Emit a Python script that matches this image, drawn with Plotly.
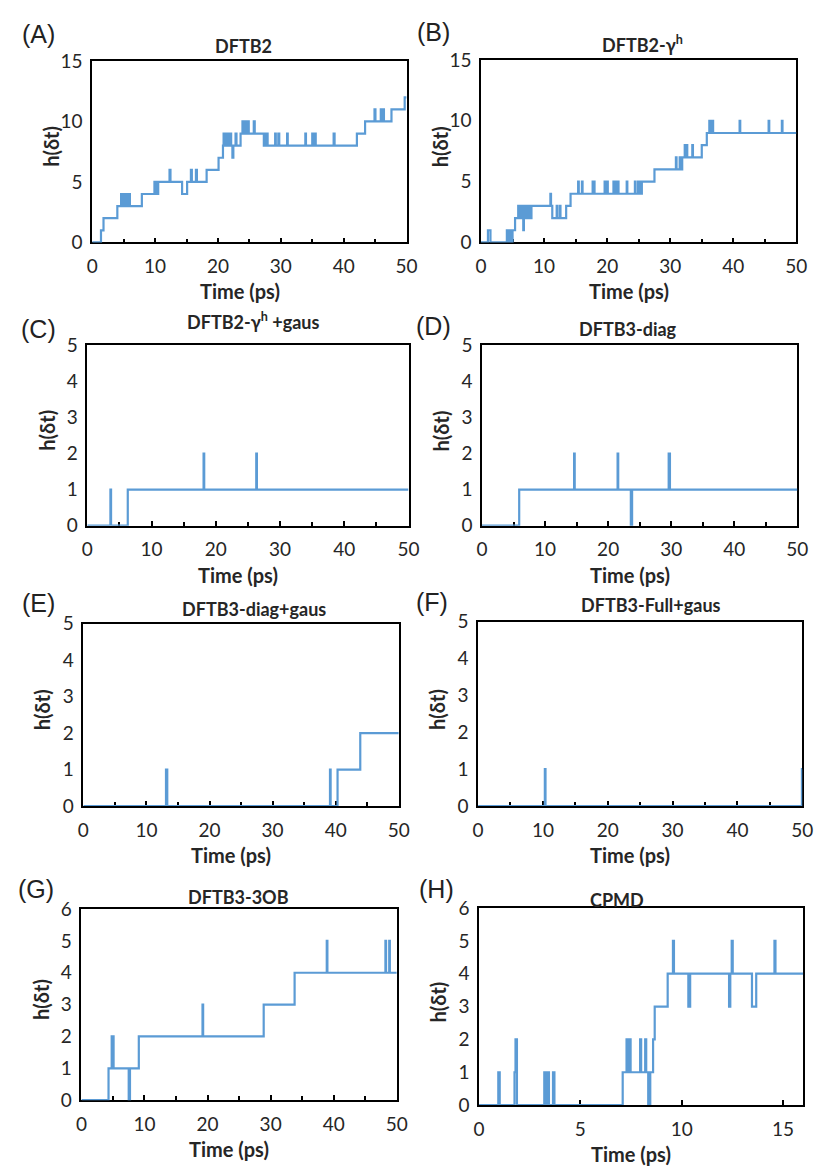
import plotly.graph_objects as go

# step data: time (ps) where h changes, and the new h value
a_t = [0, 1.4, 1.8, 4.0, 4.6, 4.75, 5.1, 5.25, 5.5, 5.65, 5.9, 6.0, 7.9,
       9.9, 10.0, 10.2, 10.3, 10.5, 12.3, 12.45, 14.3, 15.1, 15.7, 15.85, 16.5, 16.65,
       18.2, 20.1, 20.8, 20.9, 21.1, 21.2, 21.4, 21.5, 21.7, 21.8, 22.1, 22.3, 22.45,
       22.8, 22.95, 23.6, 23.9, 24.0, 24.2, 24.3, 24.5, 24.6, 24.75, 24.9, 25.7, 25.85,
       27.3, 27.5, 27.6, 27.8, 27.9, 29.1, 29.2, 29.6, 29.75, 31.0, 31.1, 33.9, 34.0,
       35.0, 35.1, 35.4, 35.55, 38.4, 38.55, 42.1, 43.4, 44.9, 45.05, 45.9, 46.0,
       46.3, 46.4, 47.6, 49.7, 50]
a_h = [0, 1, 2, 3, 4, 3, 4, 3, 4, 3, 4, 3, 4,
       5, 4, 5, 4, 5, 6, 5, 4, 5, 6, 5, 6, 5,
       6, 7, 8, 9, 8, 9, 8, 9, 8, 9, 8, 7, 8,
       9, 8, 9, 10, 9, 10, 9, 10, 9, 10, 9, 10, 9,
       8, 9, 8, 9, 8, 9, 8, 9, 8, 9, 8, 9, 8,
       9, 8, 9, 8, 9, 8, 9, 10, 11, 10, 11, 10,
       11, 10, 11, 12, 12]

b_t = [0, 1.1, 1.5, 4.1, 4.3, 4.5, 4.8, 5.0, 5.4, 5.9, 6.1, 6.3, 6.5, 6.7, 6.8,
       7.0, 7.2, 7.4, 7.6, 7.8, 8.0, 11.0, 11.1, 11.3, 12.0, 12.1, 12.5, 12.6, 13.5,
       14.2, 15.4, 15.5, 16.0, 16.1, 17.7, 17.8, 17.9, 18.0, 19.6, 19.7, 20.0, 20.1,
       21.0, 21.1, 21.3, 21.4, 21.6, 21.8, 23.1, 23.2, 24.4, 24.5, 24.9, 25.0, 25.2,
       25.3, 25.5, 27.5, 30.9, 31.0, 31.5, 31.6, 31.9, 32.3, 32.4, 32.6, 32.7, 33.5,
       33.6, 35.0, 35.8, 36.2, 36.3, 36.5, 36.8, 41.0, 41.1, 45.6, 45.7, 47.7, 47.8, 50]
b_h = [0, 1, 0, 1, 0, 1, 0, 1, 2, 3, 2, 3, 2, 1, 3,
       2, 3, 2, 3, 2, 3, 4, 3, 2, 3, 2, 3, 2, 3,
       4, 5, 4, 5, 4, 5, 4, 5, 4, 5, 4, 5, 4,
       5, 4, 5, 4, 5, 4, 5, 4, 5, 4, 5, 4, 5,
       4, 5, 6, 7, 6, 7, 6, 7, 8, 7, 8, 7, 8,
       7, 8, 9, 10, 9, 10, 9, 10, 9, 10, 9, 10, 9, 9]

c_t = [0, 3.6, 3.7, 6.3, 18.1, 18.2, 26.3, 26.4, 50]
c_h = [0, 1, 0, 1, 2, 1, 2, 1, 1]

d_t = [0, 5.9, 14.6, 14.7, 21.5, 21.6, 23.6, 23.8, 29.6, 29.8, 50]
d_h = [0, 1, 2, 1, 2, 1, 0, 1, 2, 1, 1]

e_t = [0, 13.1, 13.3, 39.1, 39.2, 40.3, 43.9, 50]
e_h = [0, 1, 0, 1, 0, 1, 2, 2]

f_t = [0, 10.3, 10.4, 49.95, 50]
f_h = [0, 1, 0, 1, 1]

g_t = [0, 4.3, 4.8, 4.9, 5.0, 5.1, 7.5, 7.7, 9.1, 19.2, 19.3, 28.9, 33.8,
       38.9, 39.0, 48.2, 48.3, 48.8, 48.9, 50]
g_h = [0, 1, 2, 1, 2, 1, 0, 1, 2, 3, 2, 3, 4,
       5, 4, 5, 4, 5, 4, 4]

h_t = [0, 0.95, 1.02, 1.75, 1.8, 1.87, 3.22, 3.3, 3.35, 3.45, 3.65, 3.72, 7.09,
       7.28, 7.35, 7.4, 7.48, 7.95, 8.0, 8.2, 8.25, 8.35, 8.45, 8.59, 8.67, 9.31,
       9.57, 9.62, 10.33, 10.42, 12.34, 12.4, 12.47, 12.52, 13.47, 13.68, 14.58, 14.63, 16]
h_h = [0, 1, 0, 1, 2, 0, 1, 0, 1, 0, 1, 0, 1,
       2, 1, 2, 1, 2, 1, 2, 1, 0, 1, 2, 3, 4,
       5, 4, 3, 4, 3, 4, 5, 4, 3, 4, 5, 4, 4]

labels = ["(A)", "(B)", "(C)", "(D)", "(E)", "(F)", "(G)", "(H)"]
titles = ["DFTB2", "DFTB2-γ<sup>h</sup>", "DFTB2-γ<sup>h</sup> +gaus", "DFTB3-diag",
          "DFTB3-diag+gaus", "DFTB3-Full+gaus", "DFTB3-3OB", "CPMD"]
series = [(a_t, a_h), (b_t, b_h), (c_t, c_h), (d_t, d_h),
          (e_t, e_h), (f_t, f_h), (g_t, g_h), (h_t, h_h)]
y_max = [15, 15, 5, 5, 5, 5, 6, 6]
y_step = [5, 5, 1, 1, 1, 1, 1, 1]
x_max = [50, 50, 50, 50, 50, 50, 50, 16]

W, H = 825, 1170
# plot boxes in page pixels: left, right, top, bottom
boxes = [(88, 409, 50, 235), (485, 807, 49, 235),
         (83, 411, 340, 524), (486, 808, 340, 524),
         (79, 401, 624, 810), (482, 813, 622, 810),
         (77, 399, 915, 1110), (483, 814, 914, 1115)]
title_pos = [(243, 35), (650, 33), (252, 315), (635, 323),
             (253, 609), (659, 605), (237, 903), (624, 906)]
label_pos = [(33, 22), (437, 20), (33, 323), (437, 320),
             (33, 603), (435, 602), (31, 895), (440, 895)]

BLUE = "#5B9BD5"
TXT = "#262626"
TICKFONT = dict(family="Lato", size=19, color=TXT)

fig = go.Figure()
annotations = []


def px_x(x):
    return x / W


def px_y(y):
    return 1 - y / H


def ann(x, y, text, size, bold=False, angle=0, family="Lato"):
    annotations.append(dict(
        x=px_x(x), y=px_y(y), xref="paper", yref="paper", text="<b>%s</b>" % text if bold else text,
        showarrow=False, textangle=angle, xanchor="center", yanchor="middle",
        font=dict(family=family, size=size, color=TXT if family == "Lato" else "#222")))


for i, (t, h) in enumerate(series):
    n = "" if i == 0 else str(i + 1)
    fig.add_trace(go.Scatter(x=t, y=h, mode="lines", line=dict(color=BLUE, width=2.2, shape="hv"),
                             xaxis="x" + n, yaxis="y" + n, hoverinfo="skip"))
    left, right, top, bottom = boxes[i]
    fig.layout["xaxis" + n] = dict(
        domain=[px_x(left), px_x(right)], anchor="y" + n, range=[0, x_max[i]],
        dtick=10 if x_max[i] == 50 else 5, ticks="inside", ticklen=5, tickwidth=1.5, tickcolor="black",
        minor=dict(dtick=5, ticks="inside", ticklen=4, tickwidth=1.5, tickcolor="black") if x_max[i] == 50 else None,
        showline=True, mirror=True, linecolor="black", linewidth=1.5,
        showgrid=False, zeroline=False, tickfont=TICKFONT, ticklabelstandoff=6,
        layer="below traces", fixedrange=True)
    fig.layout["yaxis" + n] = dict(
        domain=[px_y(bottom), px_y(top)], anchor="x" + n, range=[0, y_max[i]],
        dtick=y_step[i], ticks="", showline=True, mirror=True, linecolor="black", linewidth=1.5,
        showgrid=False, zeroline=False, tickfont=TICKFONT, ticklabelstandoff=4,
        layer="below traces", fixedrange=True)

    ann(title_pos[i][0], title_pos[i][1], titles[i], 18, bold=True)
    ann(label_pos[i][0], label_pos[i][1], labels[i], 25, family="Liberation Sans")
    ann(left - 42, (top + bottom) / 2 - 5, "h(δt)", 20, bold=True, angle=-90)
    ann((left + right) / 2 - 10, bottom + 50, "Time (ps)", 20, bold=True)

fig.update_layout(width=W, height=H, margin=dict(l=0, r=0, t=0, b=0),
                  paper_bgcolor="white", plot_bgcolor="white", showlegend=False,
                  annotations=annotations)

# drop the default body margin so the figure fills the window exactly
fig.write_html("out.html", config={"displayModeBar": False},
               post_script="document.body.style.margin='0';")
